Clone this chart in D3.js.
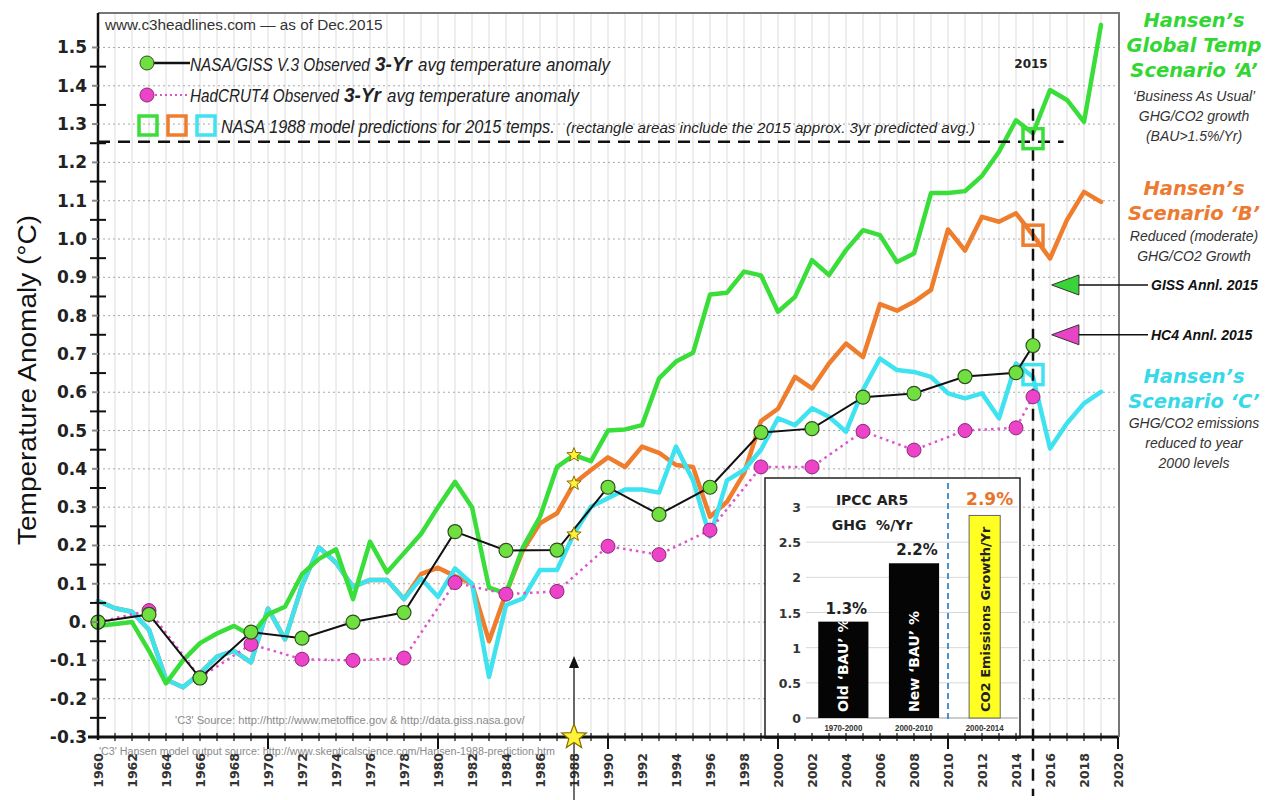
<!DOCTYPE html>
<html><head><meta charset="utf-8">
<script src="https://cdn.jsdelivr.net/npm/d3@7/dist/d3.min.js"></script>
<style>body{margin:0;background:#fff}svg{display:block}</style>
</head><body><svg id="c" width="1272" height="800"></svg>
<script>
// ---------------- DATA ----------------
const scenarioStartYear = 1960;
const scenarioA = [-0.01,-0.005,0.0,-0.075,-0.16,-0.10,-0.055,-0.03,-0.01,-0.035,
  0.02,0.04,0.125,0.165,0.19,0.06,0.21,0.13,0.18,0.23,
  0.30,0.366,0.30,0.09,0.075,0.196,0.275,0.405,0.436,0.42,
  0.50,0.503,0.514,0.636,0.68,0.703,0.855,0.86,0.915,0.905,
  0.81,0.849,0.945,0.906,0.971,1.023,1.01,0.94,0.962,1.12,
  1.12,1.125,1.165,1.228,1.31,1.276,1.389,1.363,1.306,1.559];
const scenarioB = [0.055,0.036,0.027,-0.02,-0.15,-0.17,-0.134,-0.09,-0.075,-0.105,
  0.035,-0.045,0.095,0.195,0.155,0.092,0.11,0.11,0.06,0.125,
  0.142,0.12,0.10,-0.05,0.075,0.188,0.258,0.284,0.362,0.397,
  0.43,0.405,0.458,0.442,0.41,0.405,0.275,0.314,0.388,0.525,
  0.557,0.64,0.61,0.675,0.727,0.692,0.83,0.813,0.836,0.867,
  1.025,0.97,1.058,1.045,1.067,1.01,0.949,1.05,1.123,1.097];
const scenarioC = [0.055,0.036,0.027,-0.02,-0.15,-0.17,-0.134,-0.09,-0.075,-0.105,
  0.035,-0.045,0.095,0.195,0.155,0.092,0.11,0.11,0.06,0.114,
  0.066,0.14,0.10,-0.143,0.044,0.062,0.136,0.136,0.231,0.301,
  0.323,0.346,0.346,0.338,0.458,0.37,0.223,0.37,0.397,0.45,
  0.532,0.514,0.558,0.536,0.497,0.606,0.688,0.658,0.653,0.64,
  0.597,0.584,0.597,0.532,0.675,0.64,0.453,0.519,0.571,0.601];

const obsYears = [1960,1963,1966,1969,1972,1975,1978,1981,1984,1987,1990,1993,1996,1999,2002,2005,2008,2011,2014,2015];
const gissValues = [0.0,0.02,-0.146,-0.026,-0.042,0.0,0.025,0.236,0.187,0.188,0.352,0.281,0.352,0.495,0.505,0.587,0.597,0.641,0.651,0.722];
const hadcrutValues = [0.0,0.03,-0.145,-0.058,-0.097,-0.10,-0.094,0.103,0.073,0.08,0.198,0.176,0.24,0.405,0.405,0.498,0.449,0.50,0.507,0.588];

const predictionYear = 2015;
const predictionBoxes = [1.262, 1.01, 0.646];   // A, B, C
const predictionLevel = 1.254;
const markYear = 1988;
const starValues = [0.436, 0.362, 0.229];
const annual2015 = [0.88, 0.75];
const annualLabels = ["GISS Annl. 2015", "HC4 Annl. 2015"];

const yTickValues = [-0.3,-0.2,-0.1,0.0,0.1,0.2,0.3,0.4,0.5,0.6,0.7,0.8,0.9,1.0,1.1,1.2,1.3,1.4,1.5];
const yTickLabels = ["-0.3","-0.2","-0.1","0.","0.1","0.2","0.3","0.4","0.5","0.6","0.7","0.8","0.9","1.0","1.1","1.2","1.3","1.4","1.5"];
const xTickLabels = ["1960","1962","1964","1966","1968","1970","1972","1974","1976","1978","1980","1982","1984","1986","1988","1990","1992","1994","1996","1998","2000","2002","2004","2006","2008","2010","2012","2014","2016","2018","2020"];

const insetCategories = ["1970-2000","2000-2010","2000-2014"];
const insetValues = [1.37, 2.2, 2.88];
const insetValueLabels = ["1.3%","2.2%","2.9%"];
const insetBarTexts = ["Old \u2018BAU\u2019 %","New \u2018BAU\u2019 %","CO2 Emissions Growth/Yr"];
const insetTicks = [0,0.5,1,1.5,2,2.5,3];
const insetTickLabels = ["0","0.5","1","1.5","2","2.5","3"];

// ---------------- STYLE ----------------
const cA = "#3ade3a", cB = "#ee7d2e", cC = "#3fe2ef";
const cGiss = "#70e040", cHad = "#ec43c8";
const SANS = "'Liberation Sans', Arial, sans-serif";
const VERD = "'DejaVu Sans', Verdana, sans-serif";

const svg = d3.select("#c");
const x = d3.scaleLinear().domain([1960, 2020]).range([98, 1118]);
const y = d3.scaleLinear().domain([-0.3, 1.59]).range([737, 13]);
const yearsOf = arr => arr.map((v, i) => [scenarioStartYear + i, v]);

// condensed text: measure the natural width and squeeze horizontally to the target width
function fitText(str, px, py, width, opts) {
  const t = svg.append("text").attr("x", 0).attr("y", 0).attr("font-family", SANS)
    .attr("font-size", opts.size).attr("fill", opts.fill || "#222")
    .attr("font-style", opts.italic ? "italic" : "normal").attr("font-weight", opts.bold ? "bold" : "normal")
    .attr("text-anchor", opts.anchor || "start").text(str);
  const L = t.node().getComputedTextLength();
  const s = width / L;
  t.attr("transform", `translate(${px},${py})${opts.rotate ? " rotate(" + opts.rotate + ")" : ""} scale(${s},1)`);
  return t;
}

// grid
const grid = svg.append("g");
grid.selectAll("line.v").data(d3.range(1961, 2020)).enter().append("line")
  .attr("x1", d => x(d)).attr("x2", d => x(d)).attr("y1", y.range()[1]).attr("y2", y(-0.3))
  .attr("stroke", "#dcdcdc").attr("stroke-width", 1);
grid.selectAll("line.h").data(yTickValues.filter(v => v > -0.3)).enter().append("line")
  .attr("x1", x(1960)).attr("x2", x(2020)).attr("y1", d => y(d)).attr("y2", d => y(d))
  .attr("stroke", "#a8a8a8").attr("stroke-width", 1).attr("stroke-dasharray", "2,3");

// frame
svg.append("path").attr("d", `M${x(1960)},${y.range()[1]}H${x(2020)+1}V${y(-0.3)}`)
  .attr("fill", "none").attr("stroke", "#777").attr("stroke-width", 2);

// source notes
fitText("'C3' Source: http://http://www.metoffice.gov & http://data.giss.nasa.gov/", 175, 724, 350, {size: 11, fill: "#8a8a8a"});
fitText("'C3' Hansen model output source: http://www.skepticalscience.com/Hansen-1988-prediction.htm", 99, 755, 456, {size: 11, fill: "#8a8a8a"});

// inset bar chart
const inset = svg.append("g");
inset.append("rect").attr("x", 765).attr("y", 478).attr("width", 255).attr("height", 260)
  .attr("fill", "#fff").attr("stroke", "#222").attr("stroke-width", 1.5);
const iy = d3.scaleLinear().domain([0, 3]).range([718, 507]);
const ix = d3.scaleBand().domain(insetCategories).range([808, 1020]).paddingInner(0.29).paddingOuter(0.145);
inset.selectAll("line.g").data(insetTicks).enter().append("line")
  .attr("x1", 806).attr("x2", 1018).attr("y1", d => iy(d)).attr("y2", d => iy(d))
  .attr("stroke", d => d === 0 ? "#999" : "#d8d8d8").attr("stroke-width", 1);
inset.selectAll("text.t").data(insetTicks).enter().append("text")
  .attr("x", 801).attr("y", d => iy(d) + 5).attr("text-anchor", "end")
  .attr("font-family", VERD).attr("font-weight", "bold").attr("font-size", 12.5).attr("fill", "#333")
  .text((d, i) => insetTickLabels[i]);
const widthFactor = [1, 1, 0.62];
inset.selectAll("rect.bar").data(insetValues).enter().append("rect")
  .attr("x", (d, i) => ix(insetCategories[i]) + ix.bandwidth() * (1 - widthFactor[i]) / 2)
  .attr("width", (d, i) => ix.bandwidth() * widthFactor[i])
  .attr("y", d => iy(d)).attr("height", d => iy(0) - iy(d))
  .attr("fill", (d, i) => i === 2 ? "#ffff22" : "#050505")
  .attr("stroke", (d, i) => i === 2 ? "#666" : "none").attr("stroke-width", 1);
const cx = i => ix(insetCategories[i]) + ix.bandwidth() / 2;
inset.selectAll("text.v").data(insetValues).enter().append("text")
  .attr("x", (d, i) => cx(i) + (i === 2 ? 5 : 3)).attr("y", (d, i) => iy(d) - (i === 2 ? 10 : 8))
  .attr("text-anchor", "middle").attr("font-family", VERD).attr("font-weight", "bold")
  .attr("font-size", (d, i) => i === 2 ? 17 : 15).attr("fill", (d, i) => i === 2 ? "#e8742c" : "#222")
  .text((d, i) => insetValueLabels[i]);
inset.selectAll("text.b").data(insetBarTexts).enter().append("text")
  .attr("transform", (d, i) => `translate(${cx(i) + 5},${iy(0) - 6}) rotate(-90)`)
  .attr("font-family", VERD).attr("font-weight", "bold").attr("font-size", (d, i) => i === 2 ? 13 : 14)
  .attr("fill", (d, i) => i === 2 ? "#222" : "#fff").text(d => d);
insetCategories.forEach((c, i) => fitText(c, cx(i), 731, 38, {size: 9, bold: true, fill: "#333", anchor: "middle"}));
inset.append("line").attr("x1", 948).attr("x2", 948).attr("y1", 483).attr("y2", 722)
  .attr("stroke", "#3a86c8").attr("stroke-width", 1.8).attr("stroke-dasharray", "6,4");
inset.append("text").attr("x", 872).attr("y", 505).attr("text-anchor", "middle")
  .attr("font-family", VERD).attr("font-weight", "bold").attr("font-size", 14).attr("fill", "#222").text("IPCC AR5");
inset.append("text").attr("x", 872).attr("y", 530).attr("text-anchor", "middle")
  .attr("font-family", VERD).attr("font-weight", "bold").attr("font-size", 14).attr("fill", "#222")
  .attr("xml:space", "preserve").text("GHG  %/Yr");

// scenario lines
const line = d3.line().x(d => x(d[0])).y(d => y(d[1])).curve(d3.curveLinear);
[[scenarioB, cB], [scenarioC, cC], [scenarioA, cA]].forEach(([arr, col]) => {
  svg.append("path").attr("d", line(yearsOf(arr))).attr("fill", "none").attr("stroke", col)
    .attr("stroke-width", 4.5).attr("stroke-linejoin", "round").attr("stroke-linecap", "round");
});

// 2015 dashed lines
svg.append("line").attr("x1", x(1960)).attr("x2", x(2016.8)).attr("y1", y(predictionLevel)).attr("y2", y(predictionLevel))
  .attr("stroke", "#111").attr("stroke-width", 2.5).attr("stroke-dasharray", "12,8");
svg.append("line").attr("x1", x(predictionYear)).attr("x2", x(predictionYear)).attr("y1", y(1.34)).attr("y2", 796)
  .attr("stroke", "#111").attr("stroke-width", 2.5).attr("stroke-dasharray", "12,8");
svg.append("text").attr("x", x(predictionYear) - 2).attr("y", 68).attr("text-anchor", "middle")
  .attr("font-family", VERD).attr("font-weight", "bold").attr("font-size", 12).attr("fill", "#222").text("2015");

// prediction boxes
svg.selectAll("rect.pb").data(predictionBoxes).enter().append("rect")
  .attr("x", x(predictionYear) - 10).attr("y", d => y(d) - 10).attr("width", 20).attr("height", 20)
  .attr("fill", "none").attr("stroke", (d, i) => [cA, cB, cC][i]).attr("stroke-width", 3.5);

// observations
const obsLine = d3.line().x(d => x(d[0])).y(d => y(d[1]));
const had = obsYears.map((yr, i) => [yr, hadcrutValues[i]]);
const giss = obsYears.map((yr, i) => [yr, gissValues[i]]);
svg.append("path").attr("d", obsLine(had)).attr("fill", "none").attr("stroke", "#dd55cc")
  .attr("stroke-width", 2.5).attr("stroke-dasharray", "2.5,4");
svg.selectAll("circle.h").data(had).enter().append("circle")
  .attr("cx", d => x(d[0])).attr("cy", d => y(d[1])).attr("r", 7)
  .attr("fill", cHad).attr("stroke", "#8a2a78").attr("stroke-width", 1);
svg.append("path").attr("d", obsLine(giss)).attr("fill", "none").attr("stroke", "#111").attr("stroke-width", 2);
svg.selectAll("circle.g").data(giss).enter().append("circle")
  .attr("cx", d => x(d[0])).attr("cy", d => y(d[1])).attr("r", 7)
  .attr("fill", cGiss).attr("stroke", "#2f4f1f").attr("stroke-width", 1.2);

// stars
function starPath(cx0, cy0, R) {
  const r = R * 0.42, p = [];
  for (let i = 0; i < 10; i++) {
    const a = -Math.PI / 2 + i * Math.PI / 5, rr = i % 2 ? r : R;
    p.push([cx0 + rr * Math.cos(a), cy0 + rr * Math.sin(a)]);
  }
  return "M" + p.map(q => q.join(",")).join("L") + "Z";
}
svg.selectAll("path.star").data(starValues).enter().append("path")
  .attr("d", d => starPath(x(markYear), y(d), 7.5)).attr("fill", "#fff23a").attr("stroke", "#8a6d00").attr("stroke-width", 1);

// annual 2015 pointers
svg.selectAll("path.tri").data(annual2015).enter().append("path")
  .attr("d", d => `M${x(2016.1)},${y(d)}L${x(2017.7)},${y(d) - 10}L${x(2017.7)},${y(d) + 10}Z`)
  .attr("fill", (d, i) => i === 0 ? "#3ad43a" : "#e844c8").attr("stroke", "#333").attr("stroke-width", 1);
svg.selectAll("line.ptr").data(annual2015).enter().append("line")
  .attr("x1", x(2017.7)).attr("x2", 1148).attr("y1", d => y(d)).attr("y2", d => y(d))
  .attr("stroke", "#111").attr("stroke-width", 1.5);
svg.selectAll("text.ptr").data(annual2015).enter().append("text")
  .attr("x", 1151).attr("y", d => y(d) + 5).attr("font-family", SANS).attr("font-weight", "bold")
  .attr("font-style", "italic").attr("font-size", 14).attr("fill", "#111").text((d, i) => annualLabels[i]);

// axes
svg.append("line").attr("x1", x(1960)).attr("x2", x(1960)).attr("y1", y.range()[1]).attr("y2", y(-0.3) + 3)
  .attr("stroke", "#111").attr("stroke-width", 2.5);
const midTicks = yTickValues.slice(0, -1).map(v => v + 0.05);
svg.selectAll("line.ymt").data(midTicks).enter().append("line")
  .attr("x1", x(1960) - 8).attr("x2", x(1960) + 8).attr("y1", d => y(d)).attr("y2", d => y(d))
  .attr("stroke", "#111").attr("stroke-width", 2);
svg.selectAll("line.yt").data(yTickValues).enter().append("line")
  .attr("x1", x(1960) - 6).attr("x2", x(1960)).attr("y1", d => y(d)).attr("y2", d => y(d))
  .attr("stroke", "#888").attr("stroke-width", 2);
svg.selectAll("text.yl").data(yTickValues).enter().append("text")
  .attr("x", 87).attr("y", d => y(d) + 6).attr("text-anchor", "end")
  .attr("font-family", VERD).attr("font-weight", "bold").attr("font-size", 17).attr("fill", "#222")
  .text((d, i) => yTickLabels[i]);

svg.append("line").attr("x1", 88).attr("x2", x(2020)).attr("y1", y(-0.3)).attr("y2", y(-0.3))
  .attr("stroke", "#111").attr("stroke-width", 3);
svg.selectAll("line.xm").data(d3.range(1961, 2020)).enter().append("line")
  .attr("x1", d => x(d)).attr("x2", d => x(d)).attr("y1", y(-0.3) - 4).attr("y2", y(-0.3) + 4)
  .attr("stroke", "#111").attr("stroke-width", 1.2);
svg.selectAll("line.xM").data(d3.range(1970, 2021, 10)).enter().append("line")
  .attr("x1", d => x(d)).attr("x2", d => x(d)).attr("y1", y(-0.3)).attr("y2", y(-0.3) + 12)
  .attr("stroke", "#111").attr("stroke-width", 2);
svg.selectAll("text.xl").data(xTickLabels).enter().append("text")
  .attr("transform", d => `translate(${x(+d) + 5},753) rotate(-90)`).attr("text-anchor", "end")
  .attr("font-family", VERD).attr("font-weight", "bold").attr("font-size", 12.5).attr("fill", "#333")
  .text(d => d);

// 1988 arrow + big star
svg.append("line").attr("x1", x(markYear)).attr("x2", x(markYear)).attr("y1", 666).attr("y2", 800)
  .attr("stroke", "#222").attr("stroke-width", 1.3);
svg.append("path").attr("d", `M${x(markYear)},656L${x(markYear) - 5},668L${x(markYear) + 5},668Z`).attr("fill", "#111");
svg.append("path").attr("d", starPath(x(markYear), y(-0.3), 13)).attr("fill", "#fff23a")
  .attr("stroke", "#8a6d00").attr("stroke-width", 1.2);

// axis title
fitText("Temperature Anomaly (\u00B0C)", 36, 380, 330, {size: 26, fill: "#111", anchor: "middle", rotate: -90});

// header + legend
fitText("www.c3headlines.com  \u2014  as of Dec.2015", 105, 30, 278, {size: 15, fill: "#333"});
svg.append("line").attr("x1", 150).attr("x2", 190).attr("y1", 63).attr("y2", 63).attr("stroke", "#111").attr("stroke-width", 2.5);
svg.append("circle").attr("cx", 147).attr("cy", 63).attr("r", 7).attr("fill", cGiss).attr("stroke", "#2f4f1f");
svg.append("line").attr("x1", 150).attr("x2", 190).attr("y1", 95).attr("y2", 95).attr("stroke", "#dd55cc").attr("stroke-width", 2).attr("stroke-dasharray", "2,3");
svg.append("circle").attr("cx", 147).attr("cy", 95).attr("r", 7).attr("fill", cHad).attr("stroke", "#8a2a78");
[cA, cB, cC].forEach((c, i) => svg.append("rect").attr("x", 139 + i * 29).attr("y", 116).attr("width", 18).attr("height", 19)
  .attr("fill", "none").attr("stroke", c).attr("stroke-width", 3.5));
// each legend phrase: [text, x, width, size, bold]
function legendRow(yb, parts) {
  parts.forEach(p => fitText(p[0], p[1], yb, p[2], {size: p[3], italic: true, bold: !!p[4]}));
}
legendRow(71, [["NASA/GISS V.3 Observed", 190, 180, 18], ["3-Yr", 375, 37, 21, true], ["avg temperature anomaly", 418, 192, 18]]);
legendRow(102, [["HadCRUT4 Observed", 190, 149, 18], ["3-Yr", 344, 37, 21, true], ["avg temperature anomaly", 387, 192, 18]]);
legendRow(133, [["NASA 1988 model predictions for 2015 temps.", 221, 334, 18], ["(rectangle areas include the 2015 approx. 3yr predicted avg.)", 566, 409, 14]]);

// right-hand annotations
const rx = 1194;
function rtitle(lines, col, y0) {
  lines.forEach((s, i) => svg.append("text").attr("x", rx).attr("y", y0 + i * 25).attr("text-anchor", "middle")
    .attr("font-family", VERD).attr("font-weight", "bold").attr("font-style", "italic").attr("font-size", 19.5)
    .attr("fill", col).text(s));
}
function rsub(lines, y0) {
  lines.forEach((s, i) => svg.append("text").attr("x", rx).attr("y", y0 + i * 20).attr("text-anchor", "middle")
    .attr("font-family", SANS).attr("font-style", "italic").attr("font-size", 14).attr("fill", "#333").text(s));
}
rtitle(["Hansen\u2019s", "Global Temp", "Scenario \u2018A\u2019"], "#33d633", 27);
rsub(["\u2018Business As Usual\u2019", "GHG/CO2 growth", "(BAU>1.5%/Yr)"], 101);
rtitle(["Hansen\u2019s", "Scenario \u2018B\u2019"], "#ec7a30", 195);
rsub(["Reduced (moderate)", "GHG/CO2 Growth"], 241);
rtitle(["Hansen\u2019s", "Scenario \u2018C\u2019"], "#37d8e8", 383);
rsub(["GHG/CO2 emissions", "reduced to year", "2000 levels"], 428);
</script></body></html>
